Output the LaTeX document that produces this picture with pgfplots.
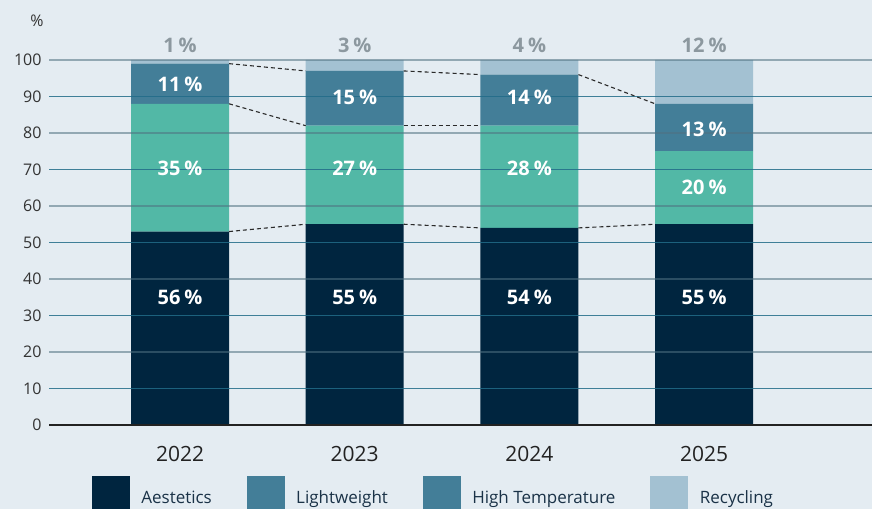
\documentclass[border=0pt]{standalone}
\usepackage{pgfplots}
\pgfplotsset{compat=1.18}
\usepackage{fontspec}
\setmainfont{Open Sans}
\definecolor{bgc}{HTML}{E4ECF2}
\definecolor{navyc}{HTML}{00253F}
\definecolor{greenc}{HTML}{52B8A6}
\definecolor{steelc}{HTML}{437E98}
\definecolor{lightc}{HTML}{A3C1D2}
\definecolor{topc}{HTML}{8C989F}
\definecolor{tickc}{HTML}{333333}
\definecolor{yearc}{HTML}{222222}
\definecolor{legc}{HTML}{1A3247}
\definecolor{gridl}{HTML}{507181}
\definecolor{gridd}{HTML}{226C89}
\definecolor{axisc}{HTML}{222222}
\definecolor{dashc}{HTML}{2A2A2A}
\begin{document}
\begin{tikzpicture}
\useasboundingbox[fill=bgc] (0,0) rectangle (872bp,509bp);
\begin{axis}[
  at={(49bp,84bp)}, anchor=south west,
  scale only axis, width=823bp, height=365bp,
  xmin=-0.75, xmax=3.961, ymin=0, ymax=100,
  ybar stacked, bar width=98bp,
  axis on top, clip=false,
  axis x line=bottom, axis y line=left,
  x axis line style={-, line width=2.5bp, color=axisc},
  y axis line style={draw=none},
  xtick={0,1,2,3}, xticklabels={2022,2023,2024,2025},
  ytick={0,20,...,100}, extra y ticks={10,30,...,90},
  ymajorgrids,
  major grid style={color=gridl, opacity=0.55, line width=2bp},
  extra y tick style={major grid style={color=gridd, opacity=0.85, line width=1.3bp}},
  major tick length=0pt,
  /pgf/number format/assume math mode=true,
  xticklabel style={font=\fontsize{21bp}{21bp}\selectfont, text=yearc, yshift=-18bp},
  yticklabel style={font=\fontsize{16bp}{16bp}\selectfont, text=tickc, xshift=-4bp},
  legend columns=4,
  legend cell align=left,
  legend style={at={(rel axis cs:0,0)}, anchor=north west, xshift=43bp, yshift=-51bp,
    draw=none, fill=none, inner sep=0pt, outer sep=0pt,
    font=\fontsize{17bp}{17bp}\selectfont, text=legc,
    nodes={inner sep=0pt, anchor=base west},
    /tikz/every odd column/.append style={column sep=12bp},
    /tikz/every even column/.append style={column sep=35bp}},
]
\addplot[fill=navyc, draw=none, forget plot] coordinates {(0,53) (1,55) (2,54) (3,55)};
\addplot[fill=greenc, draw=none, forget plot] coordinates {(0,35) (1,27) (2,28) (3,20)};
\addplot[fill=steelc, draw=none, forget plot] coordinates {(0,11) (1,15) (2,14) (3,13)};
\addplot[fill=lightc, draw=none, forget plot] coordinates {(0,1) (1,3) (2,4) (3,12)};

\addlegendimage{legend image code/.code={\fill[navyc] (0bp,-8bp) rectangle (37bp,27bp);}}
\addlegendentry{Aestetics}
\addlegendimage{legend image code/.code={\fill[steelc] (0bp,-8bp) rectangle (37bp,27bp);}}
\addlegendentry{Lightweight}
\addlegendimage{legend image code/.code={\fill[steelc] (0bp,-8bp) rectangle (37bp,27bp);}}
\addlegendentry{High Temperature}
\addlegendimage{legend image code/.code={\fill[lightc] (0bp,-8bp) rectangle (37bp,27bp);}}
\addlegendentry{Recycling}
\end{axis}
\begin{axis}[
  at={(49bp,84bp)}, anchor=south west,
  scale only axis, width=823bp, height=365bp,
  xmin=-0.75, xmax=3.961, ymin=0, ymax=100,
  hide axis, clip=false,
  dl/.style={color=dashc, line width=1.1bp, dash pattern=on 4bp off 3bp, mark=none},
]
\addplot[dl] coordinates {(0.2805,53) (0.7195,55)};
\addplot[dl] coordinates {(1.2805,55) (1.7195,54)};
\addplot[dl] coordinates {(2.2805,54) (2.7195,55)};
\addplot[dl] coordinates {(0.2805,88) (0.7195,82)};
\addplot[dl] coordinates {(1.2805,82) (1.7195,82)};
\addplot[dl] coordinates {(0.2805,99) (0.7195,97)};
\addplot[dl] coordinates {(1.2805,97) (1.7195,96)};
\addplot[dl] coordinates {(2.2805,96) (2.7195,88)};

\tikzset{lab/.style={font=\fontsize{20bp}{20bp}\selectfont\bfseries, text=white, inner sep=0pt},
         toplab/.style={font=\fontsize{20bp}{20bp}\selectfont\bfseries, text=topc, inner sep=0pt}}
\node[lab] at (axis cs:0,35) {56\hspace{0.2em}\%};
\node[lab] at (axis cs:1,35) {55\hspace{0.2em}\%};
\node[lab] at (axis cs:2,35) {54\hspace{0.2em}\%};
\node[lab] at (axis cs:3,35) {55\hspace{0.2em}\%};
\node[lab] at (axis cs:0,70.4) {35\hspace{0.2em}\%};
\node[lab] at (axis cs:1,70.4) {27\hspace{0.2em}\%};
\node[lab] at (axis cs:2,70.4) {28\hspace{0.2em}\%};
\node[lab] at (axis cs:3,65) {20\hspace{0.2em}\%};
\node[lab] at (axis cs:0,93.4) {11\hspace{0.2em}\%};
\node[lab] at (axis cs:1,89.9) {15\hspace{0.2em}\%};
\node[lab] at (axis cs:2,89.9) {14\hspace{0.2em}\%};
\node[lab] at (axis cs:3,81) {13\hspace{0.2em}\%};
\node[toplab] at (axis cs:0,104.1) {1\hspace{0.2em}\%};
\node[toplab] at (axis cs:1,104.1) {3\hspace{0.2em}\%};
\node[toplab] at (axis cs:2,104.1) {4\hspace{0.2em}\%};
\node[toplab] at (axis cs:3,104.1) {12\hspace{0.2em}\%};
\node[font=\fontsize{16bp}{16bp}\selectfont, text=tickc, inner sep=0pt] at ([xshift=-12bp, yshift=39bp]rel axis cs:0,1) {\%};
\end{axis}
\end{tikzpicture}
\end{document}
